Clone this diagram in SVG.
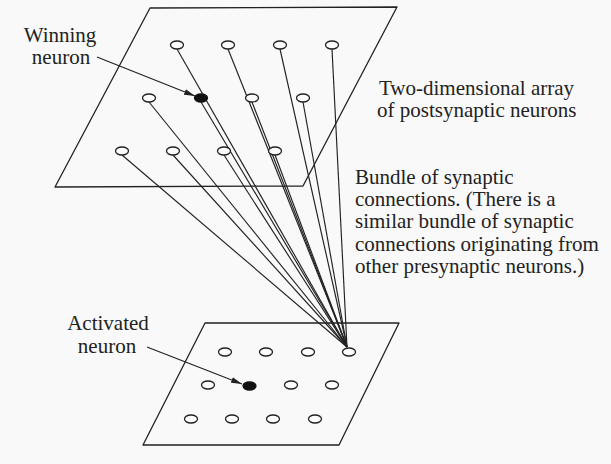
<svg xmlns="http://www.w3.org/2000/svg" width="611" height="464" viewBox="0 0 611 464">
<defs>
<style>
.plane{fill:none;stroke:#222;stroke-width:1.3;stroke-linejoin:round}
.n{fill:#fdfdfd;stroke:#222;stroke-width:1.3}
.nf{fill:#111;stroke:#111;stroke-width:1.3}
.c{stroke:#222;stroke-width:1.15;fill:none}
.a{stroke:#222;stroke-width:1.2;fill:none}
text{font-family:"Liberation Serif","Times New Roman",serif;font-size:21px;fill:#222}
</style>
<marker id="ah" viewBox="0 0 11 6" refX="11" refY="3" markerWidth="11" markerHeight="6" markerUnits="userSpaceOnUse" orient="auto">
<path d="M0,0 L11,3 L0,6 z" fill="#222"/>
</marker>
</defs>
<rect x="0" y="0" width="611" height="464" fill="#f9f9f9"/>

<g id="top-plane"><polygon class="plane" points="150,8 397,7 303,186 55,187"/></g>
<g id="bottom-plane"><polygon class="plane" points="205,323 399,323 339,445 143,445"/></g>

<g id="connectors">
<line class="c" x1="177" y1="49" x2="347" y2="347"/>
<line class="c" x1="228" y1="49" x2="347" y2="347"/>
<line class="c" x1="280" y1="49" x2="347" y2="347"/>
<line class="c" x1="332" y1="49" x2="347" y2="347"/>
<line class="c" x1="149" y1="102" x2="347" y2="347"/>
<line class="c" x1="201" y1="102" x2="347" y2="347"/>
<line class="c" x1="252" y1="102" x2="347" y2="347"/>
<line class="c" x1="303" y1="102" x2="347" y2="347"/>
<line class="c" x1="122" y1="155" x2="347" y2="347"/>
<line class="c" x1="173" y1="155" x2="347" y2="347"/>
<line class="c" x1="224" y1="155" x2="347" y2="347"/>
<line class="c" x1="275" y1="155" x2="347" y2="347"/>
<path class="a" d="M97,57 L195,96" marker-end="url(#ah)"/>
<path class="a" d="M147,347 L242,384" marker-end="url(#ah)"/>
</g>

<g id="post-1-1"><ellipse class="n" cx="177" cy="45" rx="6.5" ry="4"/></g>
<g id="post-1-2"><ellipse class="n" cx="228" cy="45" rx="6.5" ry="4"/></g>
<g id="post-1-3"><ellipse class="n" cx="280" cy="45" rx="6.5" ry="4"/></g>
<g id="post-1-4"><ellipse class="n" cx="332" cy="45" rx="6.5" ry="4"/></g>
<g id="post-2-1"><ellipse class="n" cx="149" cy="98" rx="6.5" ry="4"/></g>
<g id="winning-neuron"><ellipse class="nf" cx="201" cy="98" rx="6.5" ry="4"/></g>
<g id="post-2-3"><ellipse class="n" cx="252" cy="98" rx="6.5" ry="4"/></g>
<g id="post-2-4"><ellipse class="n" cx="303" cy="98" rx="6.5" ry="4"/></g>
<g id="post-3-1"><ellipse class="n" cx="122" cy="151" rx="6.5" ry="4"/></g>
<g id="post-3-2"><ellipse class="n" cx="173" cy="151" rx="6.5" ry="4"/></g>
<g id="post-3-3"><ellipse class="n" cx="224" cy="151" rx="6.5" ry="4"/></g>
<g id="post-3-4"><ellipse class="n" cx="275" cy="151" rx="6.5" ry="4"/></g>

<g id="pre-1-1"><ellipse class="n" cx="225" cy="352" rx="6.5" ry="4"/></g>
<g id="pre-1-2"><ellipse class="n" cx="266" cy="352" rx="6.5" ry="4"/></g>
<g id="pre-1-3"><ellipse class="n" cx="308" cy="352" rx="6.5" ry="4"/></g>
<g id="pre-1-4"><ellipse class="n" cx="349" cy="352" rx="6.5" ry="4"/></g>
<g id="pre-2-1"><ellipse class="n" cx="208" cy="385" rx="6.5" ry="4"/></g>
<g id="activated-neuron"><ellipse class="nf" cx="249.5" cy="386" rx="6.5" ry="4"/></g>
<g id="pre-2-3"><ellipse class="n" cx="291" cy="385" rx="6.5" ry="4"/></g>
<g id="pre-2-4"><ellipse class="n" cx="332" cy="385" rx="6.5" ry="4"/></g>
<g id="pre-3-1"><ellipse class="n" cx="191" cy="419" rx="6.5" ry="4"/></g>
<g id="pre-3-2"><ellipse class="n" cx="232" cy="419" rx="6.5" ry="4"/></g>
<g id="pre-3-3"><ellipse class="n" cx="273" cy="419" rx="6.5" ry="4"/></g>
<g id="pre-3-4"><ellipse class="n" cx="315" cy="419" rx="6.5" ry="4"/></g>

<g id="label-winning">
<text x="60" y="42" text-anchor="middle">Winning</text>
<text x="61" y="64" text-anchor="middle">neuron</text>
</g>
<g id="label-activated">
<text x="108" y="330" text-anchor="middle">Activated</text>
<text x="107" y="352.5" text-anchor="middle">neuron</text>
</g>
<g id="label-array">
<text x="379" y="95">Two-dimensional array</text>
<text x="377" y="117">of postsynaptic neurons</text>
</g>
<g id="label-bundle">
<text x="355" y="184">Bundle of synaptic</text>
<text x="355" y="206">connections. (There is a</text>
<text x="355" y="228">similar bundle of synaptic</text>
<text x="355" y="251">connections originating from</text>
<text x="355" y="273">other presynaptic neurons.)</text>
</g>
</svg>
